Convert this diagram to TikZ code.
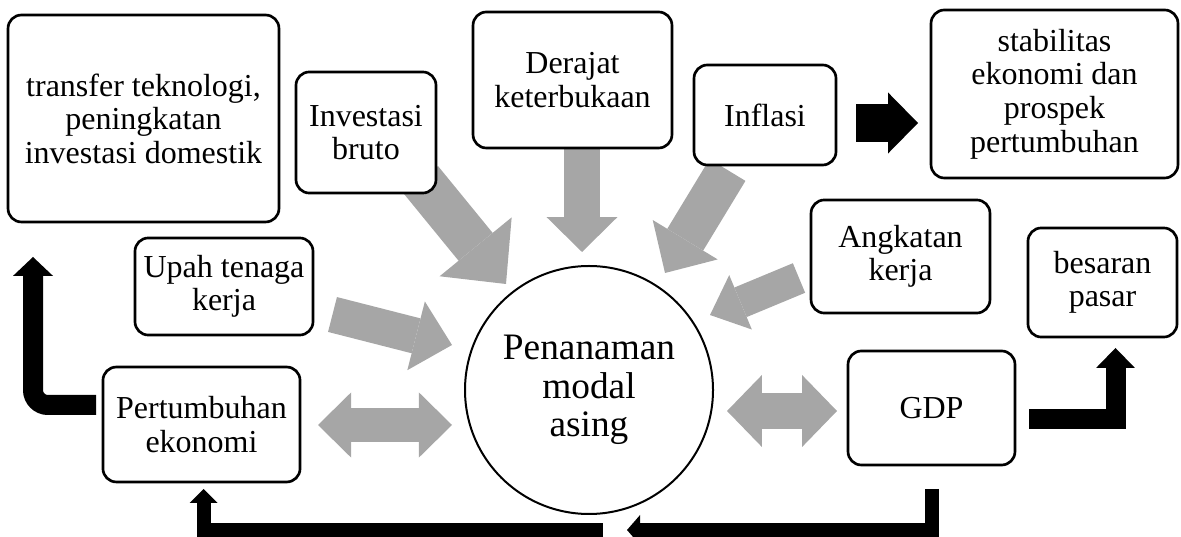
\documentclass[tikz,border=0pt]{standalone}
\usepackage{fontspec}
\setmainfont{Liberation Serif}
\usetikzlibrary{arrows.meta,backgrounds}

\definecolor{arrowgrey}{RGB}{166,166,166}

\tikzset{
  box/.style={draw, line width=1pt, rounded corners=5pt, fill=white, align=center,
    font=\fontsize{12}{12.6}\selectfont, inner sep=2pt},
  hub/.style={draw, circle, line width=0.75pt, fill=white, align=center,
    font=\fontsize{14}{14.5}\selectfont, minimum size=93pt, inner sep=0pt},
  flow/.style n args={3}{line width=#1,
    -{Triangle[width=#2, length=#3, line width=0pt]}},
  both/.style n args={3}{line width=#1,
    {Triangle[width=#2, length=#3, line width=0pt]}-{Triangle[width=#2, length=#3, line width=0pt]}},
}

\begin{document}
\begin{tikzpicture}[x=0.375pt, y=-0.375pt]
  \useasboundingbox (0,0) rectangle (1181,537);

  % boxes round the hub
  \node[box, minimum width=101.6pt, minimum height=77.6pt] (trans) at (143.5,118.5)
    {transfer teknologi,\\ peningkatan\\ investasi domestik};
  \node[box, minimum width=52.5pt, minimum height=45.4pt] (inv) at (366,132.5) {Investasi\\ bruto};
  \node[box, minimum width=74.6pt, minimum height=51pt] (der) at (572.5,80) {Derajat\\ keterbukaan};
  \node[box, minimum width=53.25pt, minimum height=37.5pt] (inf) at (765,115) {Inflasi};
  \node[box, minimum width=92.6pt, minimum height=63pt] (stab) at (1054.5,94)
    {stabilitas\\ ekonomi dan\\ prospek\\ pertumbuhan};
  \node[box, minimum width=66.75pt, minimum height=36.4pt] (upah) at (224,286.5) {Upah tenaga\\ kerja};
  \node[box, minimum width=67.1pt, minimum height=42.4pt] (ang) at (900.5,256.5) {Angkatan\\ kerja};
  \node[box, minimum width=55.9pt, minimum height=40.9pt] (bes) at (1102.5,282.5) {besaran\\ pasar};
  \node[box, minimum width=73.9pt, minimum height=43.1pt] (pert) at (201.5,424.5) {Pertumbuhan\\ ekonomi};
  \node[box, minimum width=62.6pt, minimum height=42.75pt] (gdp) at (931.5,408) {GDP};
  \node[hub] (pma) at (589,390) {Penanaman\\ modal\\ asing};

  % arrow ends
  \coordinate (inv-t) at (421,180);     \coordinate (inv-h) at (506,284);
  \coordinate (der-t) at (582,148);     \coordinate (der-h) at (582,252);
  \coordinate (inf-t) at (727.5,170);   \coordinate (inf-h) at (665,273);
  \coordinate (ang-t) at (799,278);     \coordinate (ang-h) at (710,315);
  \coordinate (upah-t) at (332.5,314.5); \coordinate (upah-h) at (452,345);
  \coordinate (pert-e) at (318,425);    \coordinate (pma-w) at (452,425);
  \coordinate (pma-e) at (727,411);     \coordinate (gdp-w) at (837,411);
  \coordinate (inf-e) at (856,123);     \coordinate (stab-w) at (918,123);
  \coordinate (gdp-e) at (1029,419);    \coordinate (bes-s) at (1115.5,348);
  \coordinate (pert-w) at (96,405);     \coordinate (trans-s) at (33,257);
  \coordinate (pma-s) at (603,530);     \coordinate (pert-s) at (203.5,489);
  \coordinate (gdp-s) at (932,489);     \coordinate (pma-se) at (627,530);

  \begin{scope}[on background layer]
    % grey arrows
    \begin{scope}[draw=arrowgrey]
      \draw[flow={16.5pt}{34.9pt}{18pt}] (inv-t) -- (inv-h);
      \draw[flow={13.5pt}{26.6pt}{13.1pt}] (der-t) -- (der-h);
      \draw[flow={15.75pt}{28.5pt}{14.6pt}] (inf-t) -- (inf-h);
      \draw[flow={12pt}{22.1pt}{12.4pt}] (ang-t) -- (ang-h);
      \draw[flow={13.5pt}{26.6pt}{13.9pt}] (upah-t) -- (upah-h);
      \draw[both={12.75pt}{24.4pt}{12.4pt}] (pert-e) -- (pma-w);
      \draw[both={13.5pt}{27pt}{13.1pt}] (pma-e) -- (gdp-w);
    \end{scope}
    % black arrows
    \draw[flow={13.9pt}{22.9pt}{11.25pt}] (inf-e) -- (stab-w);
    \draw[flow={7.5pt}{14.6pt}{7.5pt}] (gdp-e) -| (bes-s);
    \draw[flow={7.5pt}{15pt}{7.1pt}, rounded corners=5.6pt] (pert-w) -| (trans-s);
    \draw[flow={5.25pt}{10.5pt}{5.25pt}] (pma-s) -| (pert-s);
    \draw[flow={5.25pt}{11.25pt}{4.9pt}] (gdp-s) |- (pma-se);
  \end{scope}
\end{tikzpicture}
\end{document}
